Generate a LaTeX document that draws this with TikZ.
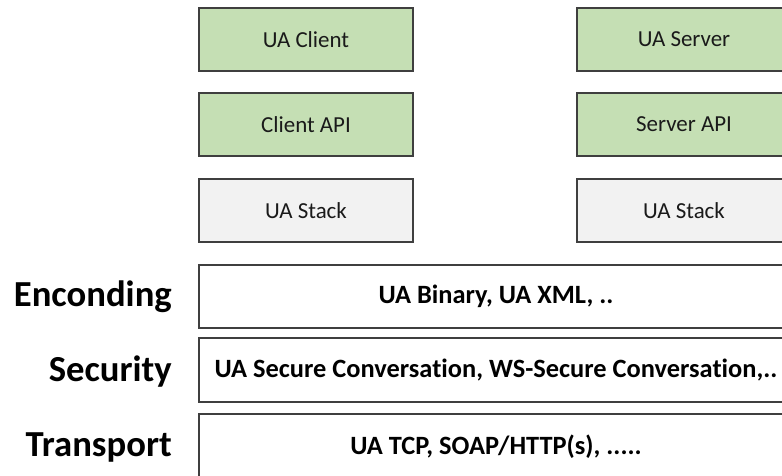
\documentclass[tikz,border=0pt]{standalone}
\usepackage{fontspec}
\setmainfont[Ligatures={NoCommon}]{Carlito}
\definecolor{boxgreen}{HTML}{C5DFB4}
\definecolor{boxgray}{HTML}{F2F2F2}
\definecolor{edge}{HTML}{3F3F3F}
\definecolor{txt}{HTML}{1A1A1A}
\begin{document}
\begin{tikzpicture}[x=0.75pt,y=-0.75pt,
  smallbox/.style={draw=edge, line width=1pt, minimum width=214*0.75pt, minimum height=63*0.75pt,
     inner sep=0pt, text=txt, font=\fontsize{17.2pt}{20pt}\selectfont},
  greenbox/.style={smallbox, fill=boxgreen},
  graybox/.style={smallbox, fill=boxgray},
  layerbox/.style={draw=edge, line width=1pt, fill=white, minimum width=594*0.75pt,
     inner sep=0pt, text=black, font=\bfseries\fontsize{19.8pt}{23pt}\selectfont},
  layerlabel/.style={anchor=east, inner sep=0pt, text=black, font=\bfseries\fontsize{27.5pt}{32pt}\selectfont}]
\useasboundingbox (0,0) rectangle (782,475);
\clip (0,0) rectangle (782,475);
\fill[white] (0,0) rectangle (782,475);
% left column
\node[greenbox] (uaclient) at (306,39.5) {UA Client};
\node[greenbox] (clientapi) at (306,124.5) {Client API};
\node[graybox]  (stackl) at (306,210.5) {UA Stack};
% right column
\node[greenbox] (uaserver) at (684,39.5) {UA Server};
\node[greenbox] (serverapi) at (684,124.5) {Server API};
\node[graybox]  (stackr) at (684,210.5) {UA Stack};
% layers
\node[layerbox, minimum height=63*0.75pt] (enc) at (496,296.5) {UA Binary, UA XML, ..};
\node[layerbox, minimum height=64*0.75pt] (sec) at (496,370) {UA Secure Conversation, WS-Secure Conversation,..};
\node[layerbox, minimum height=66*0.75pt] (tra) at (496,447) {UA TCP, SOAP/HTTP(s), .....};
% labels
\node[layerlabel] (lenc) at (172,297) {Enconding};
\node[layerlabel] (lsec) at (172,372) {Security};
\node[layerlabel] (ltra) at (172,447) {Transport};
\end{tikzpicture}
\end{document}
